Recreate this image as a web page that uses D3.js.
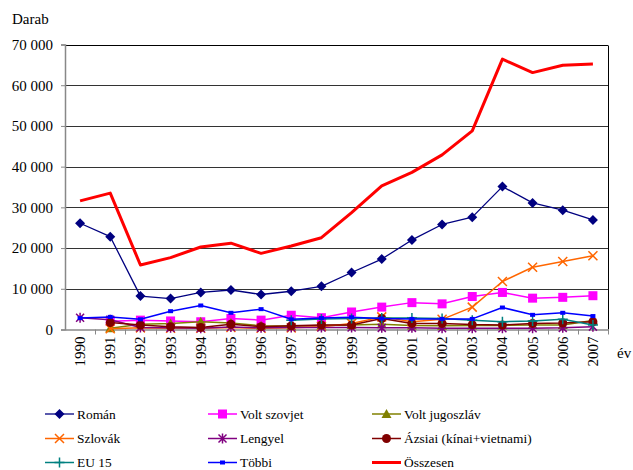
<!DOCTYPE html>
<html><head><meta charset="utf-8">
<script src="https://cdn.jsdelivr.net/npm/d3@7"></script>
<style>
html,body{margin:0;padding:0;background:#fff;}
svg{display:block;}
</style></head>
<body>
<script>
const years = ["1990","1991","1992","1993","1994","1995","1996","1997","1998","1999","2000","2001","2002","2003","2004","2005","2006","2007"];
const yTicks = [0,10000,20000,30000,40000,50000,60000,70000];
const roman = [26100,22800,8200,7600,9100,9700,8600,9400,10600,14000,17300,22000,25800,27600,35100,31100,29300,26900];
const voltSzovjet = [null,2000,2300,2100,1900,2700,2300,3500,2900,4300,5500,6600,6300,8100,9100,7700,7900,8300];
const voltJugoszlav = [null,300,1300,1500,1900,1600,900,800,1000,1100,1300,1000,900,1000,1000,1100,1100,2200];
const szlovak = [null,200,400,300,300,500,300,400,700,1500,3100,1900,2500,5500,11800,15300,16700,18100];
const lengyel = [2900,2400,500,400,300,600,400,500,500,500,400,400,300,300,300,300,400,700];
const azsiai = [null,1700,1100,700,500,1300,700,900,1100,1100,2700,1500,1500,1200,1100,1500,1600,1900];
const eu15 = [null,null,null,null,null,null,null,2300,2600,2700,2800,2800,2700,2300,1900,2100,2500,1100];
const tobbi = [2800,3100,2500,4500,5900,4100,5000,2500,2800,3000,2700,2600,2600,2600,5400,3600,4100,3300];
const osszesen = [31600,33500,15850,17650,20270,21200,18700,20500,22550,28700,35300,38600,42900,48800,66400,63100,64900,65200];

const series = [
  {name:"Román", values:roman, color:"#000080", marker:"diamond", w:1.3},
  {name:"Volt szovjet", values:voltSzovjet, color:"#FF00FF", marker:"square", w:1.5},
  {name:"Volt jugoszláv", values:voltJugoszlav, color:"#808000", marker:"triangle", w:1.5},
  {name:"Szlovák", values:szlovak, color:"#FF6600", marker:"x", w:1.5},
  {name:"Lengyel", values:lengyel, color:"#800080", marker:"star", w:1.5},
  {name:"Ázsiai (kínai+vietnami)", values:azsiai, color:"#800000", marker:"circle", w:1.5},
  {name:"EU 15", values:eu15, color:"#008080", marker:"plus", w:1.5},
  {name:"Többi", values:tobbi, color:"#0000FF", marker:"dash", w:1.5},
  {name:"Összesen", values:osszesen, color:"#FF0000", marker:"none", w:3}
];

const FONT = "'Liberation Serif'";
const W = 633, H = 470;
const svg = d3.select("body").append("svg").attr("width", W).attr("height", H)
  .attr("font-family", "Liberation Serif");
const pLeft = 65, pRight = 608, pTop = 44.5, pBottom = 329.5;

const x = d3.scaleBand().domain(years).range([pLeft, pRight]).padding(0);
const y = d3.scaleLinear().domain([0,70000]).range([pBottom, pTop]);
const cx = d => x(d) + x.bandwidth()/2;

// gridlines
svg.append("g").selectAll("line").data(yTicks.filter(t=>t>0)).join("line")
  .attr("x1", pLeft).attr("x2", pRight)
  .attr("y1", d=>Math.round(y(d))+0.5).attr("y2", d=>Math.round(y(d))+0.5)
  .attr("stroke", d=> d===70000 ? "#000" : "#333").attr("stroke-width", 1);
// right border
svg.append("line").attr("x1", pRight+0.5).attr("x2", pRight+0.5).attr("y1", Math.round(pTop)+0.5).attr("y2", pBottom)
  .attr("stroke","#000").attr("stroke-width",1);

// y axis
const fmt = v => v===0 ? "0" : d3.format(",")(v).replace(/,/g, " ");
const yAxis = svg.append("g").attr("transform", `translate(${pLeft},0)`)
  .call(d3.axisLeft(y).tickValues(yTicks).tickSize(4).tickPadding(8).tickFormat(fmt));
yAxis.attr("font-family", "Liberation Serif").attr("font-size", 15);
yAxis.select(".domain").attr("stroke","#888").attr("stroke-width",1.5);
yAxis.selectAll(".tick line").attr("stroke","#888");
yAxis.selectAll("text").style("font-family", FONT).style("font-size","15px").attr("fill","#000");

// x axis
const xAxis = svg.append("g").attr("transform", `translate(0,${pBottom})`)
  .call(d3.axisBottom(x).tickSize(0).tickFormat(""));
xAxis.select(".domain").attr("stroke","#888").attr("stroke-width",1.5);
xAxis.selectAll(".tick").remove();
// boundary ticks
svg.append("g").selectAll("line").data(years).join("line")
  .attr("x1", d=> Math.round(x(d) + x.bandwidth())+0.5)
  .attr("x2", d=> Math.round(x(d) + x.bandwidth())+0.5)
  .attr("y1", pBottom).attr("y2", pBottom+5).attr("stroke","#888");
svg.append("g").selectAll("text").data(years).join("text")
  .attr("transform", d=>`translate(${cx(d)+5},${pBottom+7}) rotate(-90)`)
  .attr("text-anchor","end").style("font-family", FONT).style("font-size","15px").text(d=>d);

svg.append("text").attr("x",12).attr("y",24).style("font-family", FONT).style("font-size","15px").text("Darab");
svg.append("text").attr("x",617).attr("y",358).style("font-family", FONT).style("font-size","15px").text("év");

// markers
function drawMarker(g, type, color, px, py){
  switch(type){
    case "diamond":
      g.append("path").attr("d", `M${px},${py-5}L${px+5},${py}L${px},${py+5}L${px-5},${py}Z`).attr("fill",color); break;
    case "square":
      g.append("rect").attr("x",px-4.5).attr("y",py-4.5).attr("width",9).attr("height",9).attr("fill",color); break;
    case "triangle":
      g.append("path").attr("d", `M${px},${py-5}L${px+5},${py+4}L${px-5},${py+4}Z`).attr("fill",color); break;
    case "circle":
      g.append("circle").attr("cx",px).attr("cy",py).attr("r",4.5).attr("fill",color); break;
    case "x":
      g.append("path").attr("d", `M${px-4.5},${py-4.5}L${px+4.5},${py+4.5}M${px+4.5},${py-4.5}L${px-4.5},${py+4.5}`).attr("stroke",color).attr("stroke-width",1.5); break;
    case "star":
      g.append("path").attr("d", `M${px-4},${py-4}L${px+4},${py+4}M${px+4},${py-4}L${px-4},${py+4}M${px},${py-5}L${px},${py+5}`).attr("stroke",color).attr("stroke-width",1.5); break;
    case "plus":
      g.append("path").attr("d", `M${px-5},${py}L${px+5},${py}M${px},${py-5}L${px},${py+5}`).attr("stroke",color).attr("stroke-width",1.5); break;
    case "dash":
      g.append("rect").attr("x",px-2.5).attr("y",py-2).attr("width",5).attr("height",4).attr("fill",color); break;
  }
}

const line = d3.line().defined(d=>d.v!=null).x(d=>cx(d.year)).y(d=>y(d.v));
series.forEach(s=>{
  const pts = years.map((yr,i)=>({year:yr, v:s.values[i]}));
  const g = svg.append("g");
  g.append("path").datum(pts).attr("d", line).attr("fill","none")
    .attr("stroke", s.color).attr("stroke-width", s.w).attr("stroke-linejoin","round");
  pts.filter(p=>p.v!=null).forEach(p=> drawMarker(g, s.marker, s.color, cx(p.year), y(p.v)));
});

// legend
const colX = [45, 208, 372], rowY = [414, 438.5, 462.5];
series.forEach((s,i)=>{
  const lx = colX[i%3], ly = rowY[Math.floor(i/3)];
  const g = svg.append("g");
  g.append("line").attr("x1",lx).attr("x2",lx+29).attr("y1",ly).attr("y2",ly)
    .attr("stroke",s.color).attr("stroke-width", s.w);
  drawMarker(g, s.marker, s.color, lx+14.5, ly);
  g.append("text").attr("x", lx+32).attr("y", ly+4.5).style("font-family", FONT).style("font-size","13.4px").text(s.name);
});
</script>
</body></html>
